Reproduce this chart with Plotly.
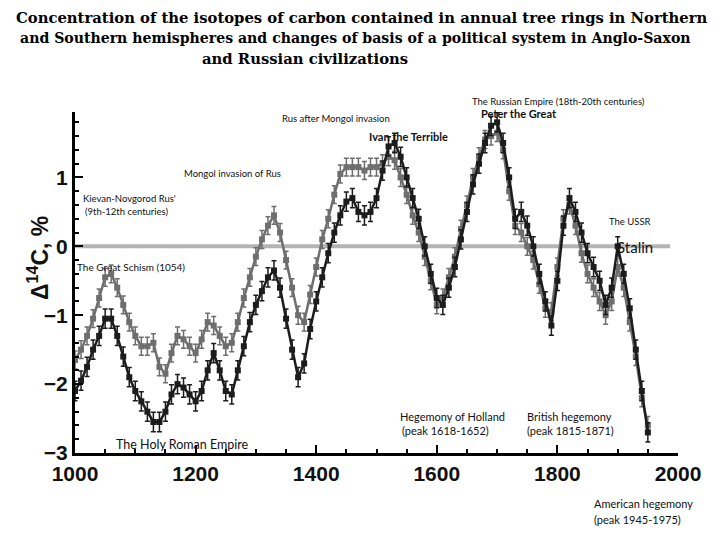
import plotly.graph_objects as go

years = list(range(1000, 1951, 10))

delta_gray = [-1.65, -1.5, -1.3, -1.05, -0.75, -0.45, -0.4, -0.6, -0.85, -1.1,
              -1.3, -1.45, -1.45, -1.4, -1.75, -1.85, -1.55, -1.3, -1.35, -1.45,
              -1.55, -1.35, -1.1, -1.15, -1.3, -1.45, -1.4, -1.1, -0.75, -0.45,
              -0.15, 0.1, 0.3, 0.45, 0.2, -0.2, -0.6, -1.0, -1.1, -0.7,
              -0.3, 0.1, 0.4, 0.75, 1.05, 1.15, 1.15, 1.15, 1.1, 1.15,
              1.15, 1.2, 1.3, 1.25, 1.0, 0.75, 0.45, 0.2, -0.15, -0.5,
              -0.85, -0.75, -0.45, -0.15, 0.25, 0.6, 1.0, 1.3, 1.55, 1.6,
              1.65, 1.4, 0.8, 0.3, 0.2, 0.0, -0.2, -0.55, -0.9, -0.95,
              -0.3, 0.4, 0.6, 0.3, -0.1, -0.4, -0.6, -0.8, -1.0, -0.8,
              -0.3, -0.6, -1.1, -1.6, -2.2, -2.6]

delta_black = [-2.1, -1.95, -1.75, -1.5, -1.3, -1.05, -1.05, -1.3, -1.6, -1.9,
               -2.1, -2.25, -2.4, -2.55, -2.55, -2.4, -2.15, -2.0, -2.05, -2.15,
               -2.25, -2.1, -1.8, -1.55, -1.8, -2.1, -2.15, -1.8, -1.45, -1.1,
               -0.85, -0.65, -0.45, -0.35, -0.6, -1.05, -1.5, -1.9, -1.7, -1.2,
               -0.8, -0.45, -0.1, 0.2, 0.45, 0.65, 0.7, 0.5, 0.45, 0.5,
               0.7, 1.1, 1.45, 1.5, 1.3, 1.0, 0.7, 0.4, 0.0, -0.4,
               -0.75, -0.85, -0.6, -0.3, 0.1, 0.5, 0.9, 1.2, 1.5, 1.75,
               1.8, 1.5, 1.0, 0.4, 0.5, 0.3, 0.0, -0.4, -0.8, -1.15,
               -0.5, 0.3, 0.7, 0.5, 0.2, -0.1, -0.3, -0.5, -0.85, -0.6,
               0.0, -0.4, -0.9, -1.5, -2.1, -2.7]

x_ticks = [1000, 1200, 1400, 1600, 1800, 2000]
y_ticks = [-3, -2, -1, 0, 1]

title_lines = [
    "Concentration of the isotopes of carbon contained in annual tree rings in Northern",
    "and Southern hemispheres and changes of basis of a political system in Anglo-Saxon",
    "and Russian civilizations",
]

# (text, pixel x, pixel y, size, bold)
labels = [
    ("Rus after Mongol invasion", 280, 118, 9.5, False),
    ("The Russian Empire (18th-20th centuries)", 470, 101, 9.5, False),
    ("Peter the Great", 479, 113, 11, True),
    ("Ivan the Terrible", 367, 136, 11, True),
    ("Mongol invasion of Rus", 182, 173, 9.5, False),
    ("Kievan-Novgorod Rus'", 81, 198, 9.5, False),
    ("(9th-12th centuries)", 83, 211, 9.5, False),
    ("The USSR", 607, 221, 9.5, False),
    ("Stalin", 615, 247, 15, False),
    ("The Great Schism (1054)", 75, 267, 10, False),
    ("Hegemony of Holland", 398, 416, 11, False),
    ("(peak 1618-1652)", 400, 430, 11, False),
    ("British hegemony", 525, 416, 11, False),
    ("(peak 1815-1871)", 525, 430, 11, False),
    ("The Holy Roman Empire", 114, 444, 12.5, False),
    ("American hegemony", 592, 503, 11, False),
    ("(peak 1945-1975)", 592, 519, 11, False),
]

W, H = 720, 540
L, R, T, B = 75, 42, 112, 87
PW, PH = W - L - R, H - T - B


def px(xp):
    return (xp - L) / PW


def py(yp):
    return (H - B - yp) / PH


fig = go.Figure()

fig.add_shape(type="line", xref="x", yref="y", x0=1000, x1=1987, y0=0, y1=0,
              line=dict(color="#b4b4b4", width=4), layer="below")

fig.add_trace(go.Scatter(
    x=years, y=delta_gray, mode="lines+markers",
    line=dict(color="#6e6e6e", width=2.5),
    marker=dict(symbol="square", size=6, color="#6e6e6e"),
    error_y=dict(type="constant", value=0.13, color="#6e6e6e", thickness=1.5, width=2.5),
    showlegend=False, hoverinfo="skip",
))
fig.add_trace(go.Scatter(
    x=years, y=delta_black, mode="lines+markers",
    line=dict(color="#1c1c1c", width=2.5),
    marker=dict(symbol="square", size=6, color="#1c1c1c"),
    error_y=dict(type="constant", value=0.14, color="#1c1c1c", thickness=1.5, width=2.5),
    showlegend=False, hoverinfo="skip",
))

title_pos = [(14, 17, 14.8), (18, 38, 14.1), (200, 59, 14.8)]
for line, (xp, yp, sz) in zip(title_lines, title_pos):
    fig.add_annotation(text="<b>" + line + "</b>", xref="paper", yref="paper",
                       x=px(xp), y=py(yp), xanchor="left", yanchor="middle",
                       showarrow=False,
                       font=dict(family="DejaVu Serif", size=sz, color="black"))

for text, xp, yp, size, bold in labels:
    t = "<b>" + text + "</b>" if bold else text
    fig.add_annotation(text=t, xref="paper", yref="paper",
                       x=px(xp), y=py(yp), xanchor="left", yanchor="middle",
                       showarrow=False,
                       font=dict(family="Lato", size=size, color="#111111"))

# y-axis title
fig.add_annotation(text="<b>Δ<sup>14</sup>C, %</b>", xref="paper", yref="paper",
                   x=px(38), y=py(258), xanchor="center", yanchor="middle",
                   textangle=-90, showarrow=False,
                   font=dict(family="Liberation Sans", size=23, color="#111111"))

tick_font = dict(family="Liberation Sans Narrow, Liberation Sans", size=21,
                 color="#111111", weight="bold")

fig.update_layout(
    width=W, height=H,
    margin=dict(l=L, r=R, t=T, b=B, autoexpand=False),
    paper_bgcolor="white", plot_bgcolor="white",
    hovermode=False,
    xaxis=dict(range=[1000, 2000], tickvals=x_ticks, ticks="inside", ticklen=8,
               tickwidth=2, tickcolor="black", showline=True, linecolor="black",
               linewidth=3, showgrid=False, zeroline=False, automargin=False,
               tickfont=tick_font,
               minor=dict(dtick=50, ticks="inside", ticklen=4, tickwidth=2, tickcolor="black")),
    yaxis=dict(range=[-3, 1.95], tickvals=y_ticks, ticks="inside", ticklen=8,
               tickwidth=2, tickcolor="black", showline=True, linecolor="black",
               linewidth=3, showgrid=False, zeroline=False, automargin=False,
               tickfont=tick_font,
               minor=dict(dtick=0.2, ticks="inside", ticklen=4, tickwidth=2, tickcolor="black")),
)

fig.write_html("out.html", config={"displayModeBar": False},
               post_script="document.body.style.margin='0';document.body.style.padding='0';")
